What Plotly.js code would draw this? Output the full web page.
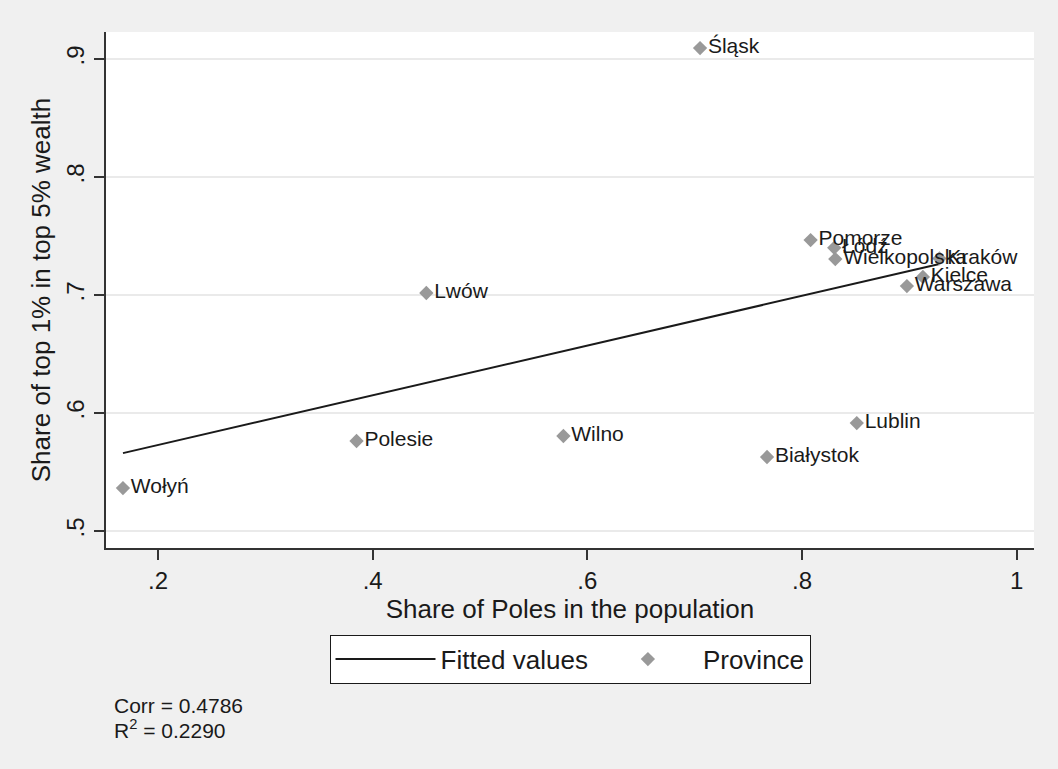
<!DOCTYPE html>
<html>
<head>
<meta charset="utf-8">
<script src="https://cdn.plot.ly/plotly-3.0.1.min.js"></script>
<style>html,body{margin:0;padding:0;background:#f0f0f0;}#chart{width:1058px;height:769px;}</style>
</head>
<body>
<div id="chart"></div>
<script>
const provinces = ["Śląsk","Pomorze","Łódź","Wielkopolska","Kraków","Kielce","Warszawa","Lwów","Lublin","Wilno","Polesie","Białystok","Wołyń"];
const polesShare = [0.705,0.808,0.830,0.831,0.928,0.9126,0.8977,0.450,0.851,0.5777,0.385,0.7674,0.1674];
const topShare = [0.9093,0.7466,0.740,0.7305,0.731,0.7153,0.7076,0.7017,0.5915,0.5805,0.5763,0.5627,0.5364];
const fitX = [0.1674,0.928];
const fitY = [0.566,0.7263];
const xTickVals = [0.2,0.4,0.6,0.8,1];
const xTickText = [".2",".4",".6",".8","1"];
const yTickVals = [0.5,0.6,0.7,0.8,0.9];
const yTickText = [".5",".6",".7",".8",".9"];
const corrLine = "Corr = 0.4786";
const r2Line = "R<sup>2</sup> = 0.2290";

const font = "Liberation Sans, Arial, sans-serif";
const traces = [
  {x: fitX, y: fitY, mode: "lines", name: "Fitted values",
   line: {color: "#1a1a1a", width: 2}, hoverinfo: "skip"},
  {x: polesShare, y: topShare, mode: "markers+text", name: "Province",
   text: provinces, textposition: "middle right",
   textfont: {family: font, size: 21, color: "#1a1a1a"},
   marker: {symbol: "diamond", size: 11, color: "#999999"}}
];
const layout = {
  width: 1058, height: 769,
  paper_bgcolor: "#f0f0f0", plot_bgcolor: "#ffffff",
  margin: {l: 106, r: 24, t: 32, b: 221},
  font: {family: font, color: "#1a1a1a"},
  xaxis: {range: [0.1516, 1.0161], tickvals: xTickVals, ticktext: xTickText,
    showgrid: false, zeroline: false, showline: true, linecolor: "#333", linewidth: 2,
    ticks: "outside", ticklen: 10, tickwidth: 1.5, tickcolor: "#333",
    tickfont: {size: 24, family: font},
    title: {text: "Share of Poles in the population", font: {size: 26, family: font}, standoff: 4}},
  yaxis: {range: [0.4856, 0.9229], tickvals: yTickVals, ticktext: yTickText,
    showgrid: true, gridcolor: "#eaeaea", gridwidth: 1.5, zeroline: false,
    showline: true, linecolor: "#333", linewidth: 2,
    ticks: "outside", ticklen: 10, tickwidth: 1.5, tickcolor: "#333",
    tickangle: -90, tickfont: {size: 24, family: font},
    title: {text: "Share of top 1% in top 5% wealth", font: {size: 26, family: font}, standoff: 4}},
  showlegend: true,
  legend: {orientation: "h", x: 0.5, xanchor: "center", y: -0.168, yanchor: "top",
    bgcolor: "#ffffff", bordercolor: "#1a1a1a", borderwidth: 1,
    font: {size: 26, family: font}, itemwidth: 100},
  annotations: [
    {xref: "paper", yref: "paper", x: 0.0065, y: -0.279,
     xanchor: "left", yanchor: "top", align: "left", showarrow: false,
     text: corrLine, font: {size: 21, family: font, color: "#1a1a1a"}},
    {xref: "paper", yref: "paper", x: 0.0065, y: -0.322,
     xanchor: "left", yanchor: "top", align: "left", showarrow: false,
     text: r2Line, font: {size: 21, family: font, color: "#1a1a1a"}}
  ]
};
Plotly.newPlot("chart", traces, layout, {displayModeBar: false});
</script>
</body>
</html>
